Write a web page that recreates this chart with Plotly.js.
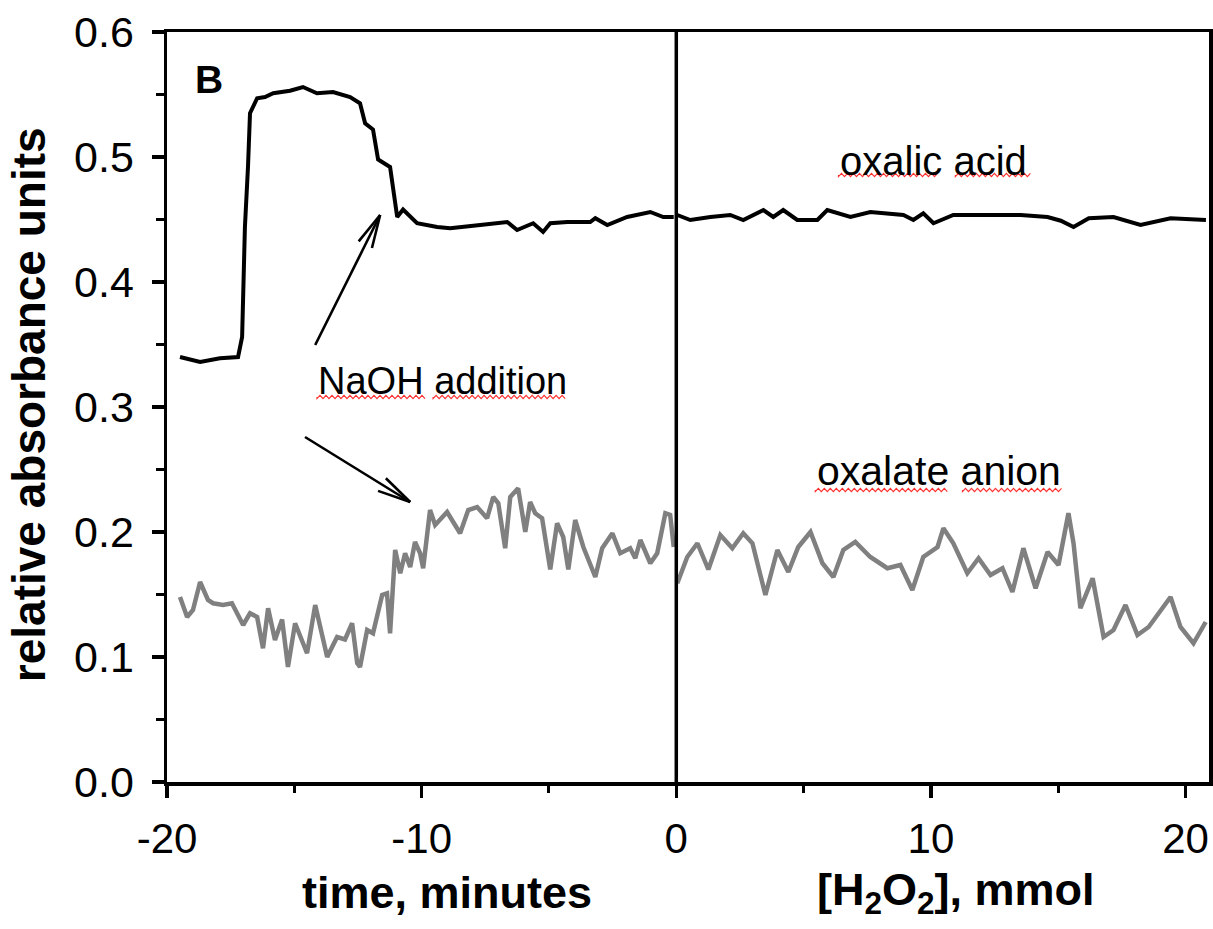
<!DOCTYPE html>
<html>
<head>
<meta charset="utf-8">
<script src="https://cdn.plot.ly/plotly-3.0.1.min.js"></script>
<style>html,body{margin:0;padding:0;background:#fff;}#chart{width:1213px;height:929px;}</style>
</head>
<body>
<div id="chart"></div>
<script>
// ---- data: oxalic acid (black), time segment ----
const acidTimeX = [-19.49,-18.70,-17.92,-17.21,-17.05,-16.94,-16.82,-16.74,-16.46,-16.15,-15.83,-15.17,-14.66,-14.38,-14.11,-13.48,-12.81,-12.42,-12.22,-11.91,-11.71,-11.24,-11.04,-10.96,-10.73,-10.18,-9.39,-8.88,-7.70,-6.64,-6.25,-5.62,-5.23,-4.95,-4.28,-3.38,-3.18,-2.71,-1.93,-1.02,-0.51,-0.10];
const acidTimeY = [0.340,0.336,0.339,0.340,0.356,0.444,0.492,0.535,0.547,0.548,0.551,0.553,0.556,0.553,0.551,0.552,0.548,0.543,0.527,0.522,0.498,0.492,0.460,0.452,0.458,0.447,0.444,0.443,0.4456,0.448,0.4416,0.447,0.440,0.447,0.448,0.448,0.451,0.4456,0.452,0.456,0.452,0.452];
// ---- oxalic acid, H2O2 segment ----
const acidH2O2X = [0.04,0.55,1.34,2.12,2.63,3.42,3.81,4.20,4.75,5.54,5.93,6.84,7.62,8.92,9.31,9.70,10.10,10.88,12.34,13.52,14.58,15.10,15.60,16.20,17.17,18.23,19.41,20.80];
const acidH2O2Y = [0.4536,0.4496,0.452,0.4536,0.4496,0.4576,0.452,0.4576,0.4496,0.4496,0.4576,0.452,0.456,0.4536,0.4496,0.455,0.447,0.4536,0.4536,0.4536,0.452,0.449,0.444,0.451,0.452,0.4456,0.451,0.4496];
// ---- oxalate anion (grey), time segment ----
const anionTimeX = [-19.49,-19.21,-18.98,-18.70,-18.39,-18.19,-17.80,-17.45,-17.01,-16.74,-16.46,-16.23,-16.03,-15.76,-15.48,-15.25,-14.97,-14.70,-14.50,-14.18,-13.91,-13.71,-13.32,-13.01,-12.73,-12.53,-12.42,-12.14,-11.91,-11.55,-11.36,-11.24,-11.04,-10.84,-10.65,-10.45,-10.26,-10.06,-9.94,-9.67,-9.47,-9.00,-8.49,-8.17,-7.82,-7.43,-7.19,-6.99,-6.72,-6.52,-6.21,-5.93,-5.74,-5.54,-5.27,-4.95,-4.68,-4.44,-4.24,-3.97,-3.65,-3.18,-2.91,-2.51,-2.20,-1.81,-1.61,-1.41,-1.02,-0.75,-0.43,-0.24,-0.10];
const anionTimeY = [0.148,0.132,0.1376,0.160,0.1456,0.143,0.1416,0.143,0.1256,0.135,0.132,0.107,0.139,0.1136,0.130,0.092,0.127,0.1136,0.103,0.1416,0.119,0.100,0.116,0.114,0.127,0.095,0.092,0.1216,0.119,0.1496,0.151,0.119,0.1856,0.167,0.183,0.172,0.192,0.183,0.171,0.2176,0.2056,0.216,0.199,0.2176,0.220,0.211,0.228,0.223,0.187,0.228,0.235,0.200,0.224,0.215,0.211,0.170,0.207,0.196,0.170,0.2096,0.188,0.164,0.187,0.199,0.183,0.187,0.179,0.1936,0.175,0.183,0.215,0.2136,0.188];
// ---- oxalate anion, H2O2 segment ----
const anionH2O2X = [0.04,0.43,0.83,1.26,1.73,2.20,2.63,2.99,3.50,3.97,4.40,4.79,5.27,5.74,6.17,6.56,7.03,7.62,8.29,8.80,9.27,9.70,10.26,10.49,10.88,11.43,11.87,12.34,12.81,13.20,13.63,14.11,14.58,15.01,15.40,15.60,15.87,16.35,16.78,17.17,17.64,18.11,18.55,19.41,19.80,20.31,20.79];
const anionH2O2Y = [0.159,0.180,0.191,0.170,0.1976,0.187,0.199,0.191,0.1496,0.1856,0.168,0.188,0.200,0.175,0.164,0.1856,0.192,0.180,0.171,0.1736,0.1536,0.180,0.188,0.203,0.191,0.167,0.179,0.1656,0.171,0.152,0.187,0.155,0.184,0.1736,0.215,0.191,0.139,0.163,0.116,0.1216,0.1416,0.1176,0.124,0.148,0.124,0.111,0.128];
// ---- ticks ----
const xTickVals = [-20,-10,0,10,20];
const xTickText = ["-20","-10","0","10","20"];
const yTickVals = [0,0.1,0.2,0.3,0.4,0.5,0.6];
const yTickText = ["0.0","0.1","0.2","0.3","0.4","0.5","0.6"];
const xRange = [-20, 20.92];
const yRange = [0, 0.6];

const FONT = "Liberation Sans, Arial, sans-serif";
const W = 1213, H = 929;
const M = {l:167, r:4, t:32, b:147};
const pxX = (xRange[1]-xRange[0])/(W-M.l-M.r);
const pxY = (yRange[1]-yRange[0])/(H-M.t-M.b);

function wavy(x0, x1, y){
  let d = "M" + x0 + "," + y;
  let i = 0;
  for (let x = x0; x <= x1; x += 3*pxX, i++) {
    d += " L" + x.toFixed(4) + "," + (y + (i%2 ? 1.6*pxY : -1.6*pxY)).toFixed(5);
  }
  return {type:"path", xref:"x", yref:"y", path:d, line:{color:"#ff3030", width:1.2}};
}

// open "V" arrow drawn as three line shapes (tail->head, plus two barbs)
function openArrow(tx, ty, hx, hy){
  const dxp = (hx-tx)/pxX, dyp = (hy-ty)/pxY;
  const ang = Math.atan2(dyp, dxp);
  const len = 34, spread = 0.22;
  const st = {color:"#000", width:2.6};
  const out = [{type:"line", xref:"x", yref:"y", x0:tx, y0:ty, x1:hx, y1:hy, line:st}];
  [-spread, spread].forEach(s => {
    const a = ang + Math.PI + s;
    out.push({type:"line", xref:"x", yref:"y", x0:hx, y0:hy,
      x1:hx + Math.cos(a)*len*pxX, y1:hy + Math.sin(a)*len*pxY, line:st});
  });
  return out;
}

const blackLine = {color:"#000", width:4};
const greyLine = {color:"#808080", width:4.5};
const traces = [
  {x:acidTimeX, y:acidTimeY, mode:"lines", line:blackLine, hoverinfo:"skip"},
  {x:acidH2O2X, y:acidH2O2Y, mode:"lines", line:blackLine, hoverinfo:"skip"},
  {x:anionTimeX, y:anionTimeY, mode:"lines", line:greyLine, hoverinfo:"skip"},
  {x:anionH2O2X, y:anionH2O2Y, mode:"lines", line:greyLine, hoverinfo:"skip"}
];

const layout = {
  width:W, height:H, margin:M, showlegend:false,
  paper_bgcolor:"#fff", plot_bgcolor:"#fff",
  font:{family:FONT, color:"#000"},
  xaxis:{range:xRange, tickmode:"array", tickvals:xTickVals, ticktext:xTickText,
    showgrid:false, zeroline:false, showline:true, linecolor:"#000", linewidth:3.5, mirror:true,
    ticks:"outside", ticklen:12, tickwidth:3.5, tickcolor:"#000", ticklabelstandoff:5,
    tickfont:{family:FONT, size:42, color:"#000"},
    minor:{tickvals:[-15,-5,5,15], ticks:"outside", ticklen:7, tickwidth:3, tickcolor:"#000"}},
  yaxis:{range:yRange, tickmode:"array", tickvals:yTickVals, ticktext:yTickText,
    showgrid:false, zeroline:false, showline:true, linecolor:"#000", linewidth:3.5, mirror:true,
    ticks:"outside", ticklen:12, tickwidth:3.5, tickcolor:"#000", ticklabelstandoff:9,
    tickfont:{family:FONT, size:43, color:"#000"},
    minor:{dtick:0.05, ticks:"outside", ticklen:8, tickwidth:3, tickcolor:"#000"}},
  shapes:[
    {type:"line", xref:"x", yref:"y", x0:0, x1:0, y0:0, y1:0.6, line:{color:"#000", width:3.5}},
    wavy(-14.11,-9.86,0.308), wavy(-9.55,-4.28,0.308),
    wavy(6.37,10.37,0.4856), wavy(10.96,13.91,0.4856),
    wavy(5.46,10.69,0.2336), wavy(11.24,15.21,0.2336),
    ...openArrow(-14.18,0.3496,-11.63,0.4536),
    ...openArrow(-14.58,0.276,-10.45,0.224)
  ],
  annotations:[
    {text:"<b>B</b>", x:-18.35, y:0.562, xref:"x", yref:"y", showarrow:false, font:{family:FONT, size:39, color:"#000"}},
    {text:"oxalic acid", x:10.1, y:0.497, xref:"x", yref:"y", showarrow:false, font:{family:FONT, size:40, color:"#000"}},
    {text:"NaOH addition", x:-9.2, y:0.321, xref:"x", yref:"y", showarrow:false, font:{family:FONT, size:38, color:"#000"}},
    {text:"oxalate anion", x:10.3, y:0.249, xref:"x", yref:"y", showarrow:false, font:{family:FONT, size:41, color:"#000"}},
    {text:"<b>time, minutes</b>", x:-9.0, y:-0.147, xref:"x", yref:"paper", yanchor:"middle", showarrow:false, font:{family:FONT, size:45, color:"#000"}},
    {text:"<b>[H<sub>2</sub>O<sub>2</sub>], mmol</b>", x:11.0, y:-0.147, xref:"x", yref:"paper", yanchor:"middle", showarrow:false, font:{family:FONT, size:45, color:"#000"}},
    {text:"<b>relative absorbance units</b>", x:-0.133, y:0.503, xref:"paper", yref:"paper", textangle:-90, xanchor:"center", yanchor:"middle", showarrow:false, font:{family:FONT, size:46, color:"#000"}}
  ]
};

Plotly.newPlot("chart", traces, layout, {staticPlot:true, displayModeBar:false});
</script>
</body>
</html>
